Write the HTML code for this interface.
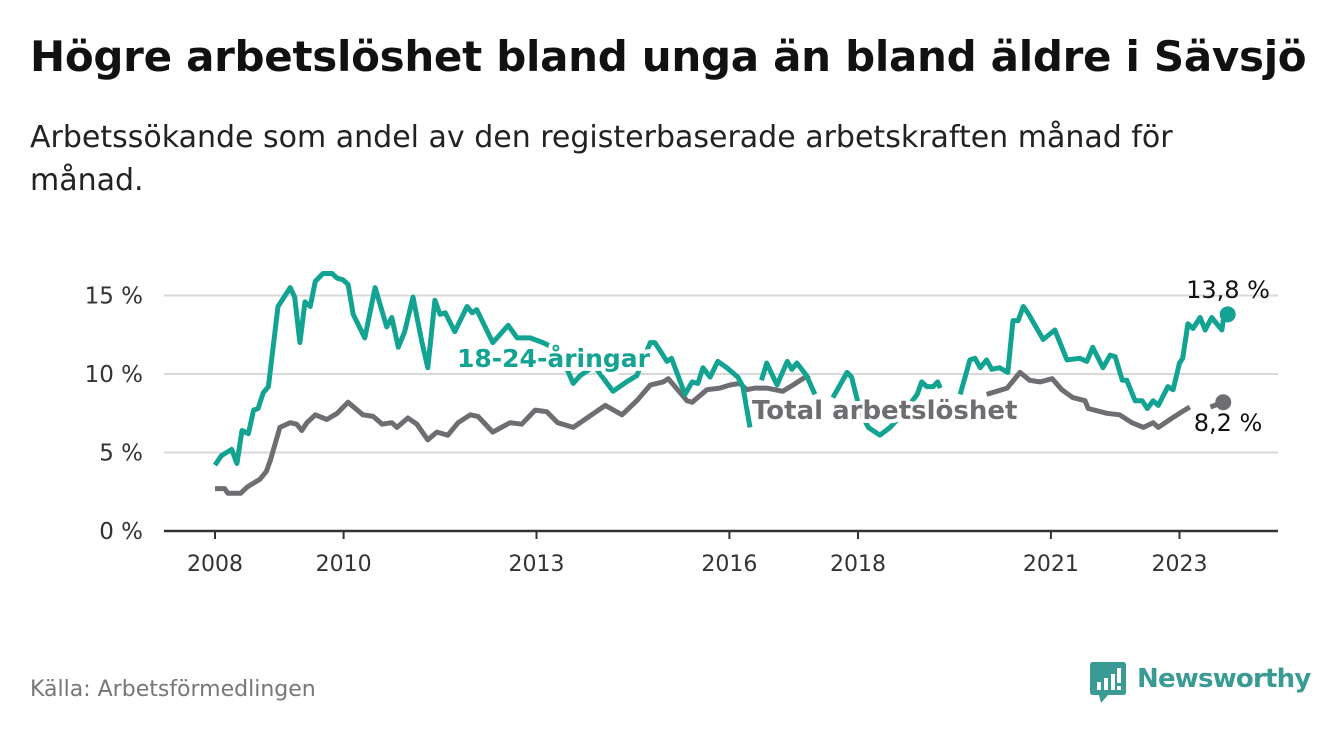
<!DOCTYPE html>
<html><head><meta charset="utf-8"><style>
body{margin:0;width:1340px;height:734px;background:#fff;font-family:"Liberation Sans","DejaVu Sans",sans-serif;overflow:hidden;position:relative}
.t{position:absolute;left:30px;top:32px;font-size:42px;font-weight:bold;color:#111;font-family:"DejaVu Sans",sans-serif;letter-spacing:-0.3px;white-space:nowrap}
.s{position:absolute;left:30px;top:116px;font-size:30px;color:#222;line-height:43px;width:1190px;font-family:"DejaVu Sans",sans-serif}
.src{position:absolute;left:30px;top:677px;font-size:22px;color:#777;font-family:"DejaVu Sans",sans-serif}
</style></head><body>
<div class="t">Högre arbetslöshet bland unga än bland äldre i Sävsjö</div>
<div class="s">Arbetssökande som andel av den registerbaserade arbetskraften månad för månad.</div>
<svg id="ch" width="1340" height="734" style="position:absolute;left:0;top:0"></svg>
<div class="src">Källa: Arbetsförmedlingen</div>
<div style="position:absolute;left:1090px;top:662px;height:40px">
<svg width="36" height="42" style="position:absolute;left:0;top:0"><path d="M0 3 Q0 0 3 0 H33 Q36 0 36 3 V30 Q36 33 33 33 H18 L11 41 L9 33 H3 Q0 33 0 30Z" fill="#3a9a94"/><rect x="7" y="20" width="4" height="8" fill="#fff"/><rect x="14" y="16" width="4" height="12" fill="#fff"/><rect x="21" y="12" width="4" height="16" fill="#fff"/><rect x="27" y="6" width="4" height="15" fill="#fff"/><rect x="27" y="24" width="4" height="4" fill="#fff"/></svg>
<span style="position:absolute;left:47px;top:2px;font-size:26px;font-weight:bold;color:#3a9a94;font-family:'DejaVu Sans',sans-serif;letter-spacing:-0.8px">Newsworthy</span></div>
<script>
const yTicks=[0,5,10,15];
const xTicks=[2008,2010,2013,2016,2018,2021,2023];
const youthX=[2008.0,2008.1,2008.26,2008.34,2008.42,2008.52,2008.6,2008.67,2008.75,2008.83,2008.98,2009.17,2009.24,2009.32,2009.4,2009.48,2009.56,2009.68,2009.82,2009.9,2009.99,2010.07,2010.15,2010.33,2010.49,2010.67,2010.75,2010.85,2010.95,2011.08,2011.22,2011.31,2011.42,2011.5,2011.58,2011.73,2011.92,2012.0,2012.07,2012.32,2012.56,2012.7,2012.9,2013.1,2013.35,2013.57,2013.68,2013.9,2014.19,2014.4,2014.56,2014.77,2014.84,2014.92,2015.03,2015.1,2015.2,2015.31,2015.42,2015.51,2015.59,2015.7,2015.82,2015.96,2016.13,2016.21,2016.32,2016.4,2016.5,2016.58,2016.74,2016.9,2016.97,2017.05,2017.2,2017.33,2017.45,2017.61,2017.83,2017.9,2017.98,2018.05,2018.16,2018.34,2018.5,2018.7,2018.92,2018.99,2019.07,2019.17,2019.24,2019.28,2019.45,2019.59,2019.74,2019.82,2019.9,2020.0,2020.08,2020.2,2020.33,2020.41,2020.49,2020.57,2020.64,2020.88,2021.06,2021.25,2021.45,2021.56,2021.65,2021.81,2021.92,2022.0,2022.11,2022.18,2022.31,2022.42,2022.5,2022.59,2022.67,2022.82,2022.9,2023.0,2023.05,2023.13,2023.21,2023.32,2023.4,2023.5,2023.66,2023.68,2023.75];
const youthV=[4.2,4.8,5.2,4.3,6.4,6.2,7.7,7.8,8.8,9.2,14.3,15.5,14.9,12.0,14.6,14.3,15.9,16.4,16.4,16.1,16.0,15.7,13.8,12.3,15.5,13.0,13.6,11.7,12.7,14.9,12.0,10.4,14.7,13.8,13.9,12.7,14.3,13.9,14.1,12.0,13.1,12.3,12.3,12.0,11.5,9.4,9.9,10.5,8.9,9.5,9.9,12.0,12.0,11.5,10.8,11.0,9.9,8.7,9.5,9.4,10.4,9.8,10.8,10.4,9.8,9.2,6.6,null,9.6,10.7,9.3,10.8,10.3,10.7,9.9,8.7,null,8.5,10.1,9.8,8.5,7.5,6.6,6.1,6.6,7.5,8.7,9.5,9.2,9.2,9.5,9.1,null,8.7,10.9,11.0,10.4,10.9,10.3,10.4,10.1,13.4,13.4,14.3,13.9,12.2,12.8,10.9,11.0,10.8,11.7,10.4,11.2,11.1,9.6,9.6,8.3,8.3,7.8,8.3,8.0,9.2,9.0,10.7,11.0,13.2,12.9,13.6,12.8,13.6,12.8,13.4,13.8];
const totalX=[2008.0,2008.15,2008.2,2008.4,2008.5,2008.7,2008.8,2008.86,2009.01,2009.17,2009.27,2009.35,2009.43,2009.56,2009.74,2009.9,2010.07,2010.3,2010.46,2010.6,2010.75,2010.83,2011.0,2011.14,2011.31,2011.45,2011.62,2011.78,2011.97,2012.09,2012.32,2012.59,2012.77,2012.98,2013.16,2013.33,2013.57,2014.07,2014.33,2014.56,2014.77,2014.97,2015.05,2015.34,2015.42,2015.65,2015.85,2016.01,2016.16,2016.27,2016.4,2016.58,2016.83,2016.99,2017.18,2017.25,2017.5,2020.0,2020.32,2020.52,2020.67,2020.83,2021.02,2021.17,2021.34,2021.53,2021.58,2021.87,2022.07,2022.26,2022.44,2022.59,2022.67,2022.85,2023.0,2023.16,2023.3,2023.48,2023.68];
const totalV=[2.7,2.7,2.4,2.4,2.8,3.3,3.8,4.5,6.6,6.9,6.8,6.4,6.9,7.4,7.1,7.5,8.2,7.4,7.3,6.8,6.9,6.6,7.2,6.8,5.8,6.3,6.1,6.9,7.4,7.3,6.3,6.9,6.8,7.7,7.6,6.9,6.6,8.0,7.4,8.3,9.3,9.5,9.7,8.3,8.2,9.0,9.1,9.3,9.4,9.0,9.1,9.1,8.9,9.3,9.8,9.7,null,8.7,9.1,10.1,9.6,9.5,9.7,9.0,8.5,8.3,7.8,7.5,7.4,6.9,6.6,6.9,6.6,7.1,7.5,7.9,null,7.9,8.2];
const NS='http://www.w3.org/2000/svg',svg=document.getElementById('ch');
const L=164,R=1278,X0=215,PX=64.3,Y0=531,PY=15.7;
const xs=y=>X0+(y-2008)*PX, ys=v=>Y0-v*PY;
function mk(t,a){const e=document.createElementNS(NS,t);for(const k in a)e.setAttribute(k,a[k]);svg.appendChild(e);return e;}
yTicks.forEach(v=>{
 const g=mk('line',{x1:L,x2:R,y1:ys(v),y2:ys(v),stroke:v?'#d9d9d9':'#333','stroke-width':v?2:2.5});
 
 
 const t=mk('text',{x:143,y:ys(v)+8,'text-anchor':'end','font-size':23,fill:'#333','font-family':'DejaVu Sans,sans-serif'});
 t.textContent=v+' %';
 
 
});
xTicks.forEach(y=>{
 const l=mk('line',{x1:xs(y),x2:xs(y),y1:Y0,y2:Y0+8,stroke:'#333','stroke-width':2});
 
 
 const t=mk('text',{x:xs(y),y:571,'text-anchor':'middle','font-size':22,fill:'#333','font-family':'DejaVu Sans,sans-serif'});
 t.textContent=y;
 
 
});
function path(X,V){let d='',pen=false;X.forEach((x,i)=>{if(V[i]==null){pen=false;return;}d+=(pen?'L':'M')+xs(x).toFixed(1)+' '+ys(V[i]).toFixed(1);pen=true;});return d;}
const pt=mk('path',{d:path(totalX,totalV),fill:'none',stroke:'#6e6d72','stroke-width':5,'stroke-linejoin':'round'});


const py=mk('path',{d:path(youthX,youthV),fill:'none',stroke:'#13a393','stroke-width':5,'stroke-linejoin':'round'});


function lab(txt,x,y,c,name,size,bold){
 const t=mk('text',{x:x,y:y,'font-size':size,'font-weight':bold?'bold':'normal',fill:c,stroke:'#fff','stroke-width':bold?8:0,'stroke-linejoin':'round','paint-order':'stroke','font-family':'DejaVu Sans,sans-serif'});
 t.textContent=txt;return t;}
lab('18-24-åringar',457,367,'#13a393','youth-series-label',25,true);
lab('Total arbetslöshet',752,419,'#6e6d72','total-series-label',26,true);
const ly=youthV[youthV.length-1],lt=totalV[totalV.length-1];
const d1=mk('circle',{cx:xs(youthX[youthX.length-1]),cy:ys(ly),r:8,fill:'#13a393'});


const d2=mk('circle',{cx:xs(totalX[totalX.length-1]),cy:ys(lt),r:8,fill:'#6e6d72'});


const e1=lab(ly.toFixed(1).replace('.',',')+' %',1228,298,'#111','youth-end-value',24,false);e1.setAttribute('text-anchor','middle');
const e2=lab(lt.toFixed(1).replace('.',',')+' %',1228,431,'#111','total-end-value',24,false);e2.setAttribute('text-anchor','middle');
</script>
</body></html>
